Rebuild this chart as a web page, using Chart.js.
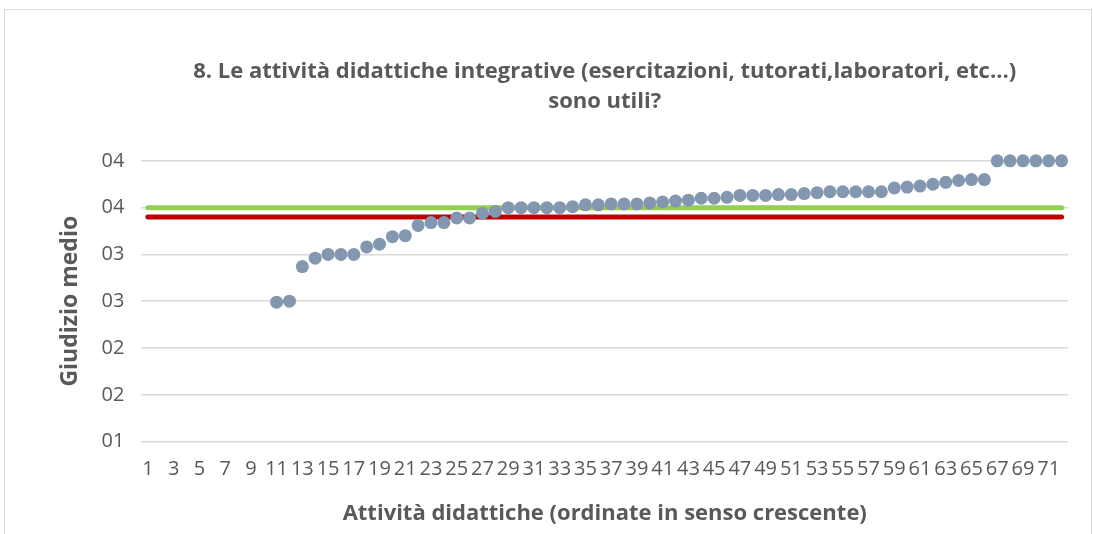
<!DOCTYPE html>
<html>
<head>
<meta charset="utf-8">
<script src="https://cdn.jsdelivr.net/npm/chart.js@4.4.1/dist/chart.umd.min.js"></script>
<style>
  html, body { margin: 0; padding: 0; background: #fff; }
  #frame { position: absolute; left: 4px; top: 9px; width: 1086px; height: 530px; border: 1px solid #d9d9d9; border-bottom: none; }
  #wrap { position: absolute; left: 0; top: 0; width: 1093px; height: 534px; }
</style>
</head>
<body>
<div id="frame"></div>
<div id="wrap"><canvas id="mycanvas"></canvas></div>
<script>
var labels = [1,2,3,4,5,6,7,8,9,10,11,12,13,14,15,16,17,18,19,20,21,22,23,24,25,26,27,28,29,30,31,32,33,34,35,36,
  37,38,39,40,41,42,43,44,45,46,47,48,49,50,51,52,53,54,55,56,57,58,59,60,61,62,63,64,65,66,67,68,69,70,71,72];

// giudizio medio per attività (le prime 10 senza valore)
var giudizio = [null,null,null,null,null,null,null,null,null,null,
  2.49,2.50,2.87,2.96,3.00,3.00,3.00,3.08,3.11,3.19,3.20,3.31,3.34,3.34,3.39,3.39,3.44,3.46,
  3.50,3.50,3.50,3.50,3.50,3.51,3.53,3.53,3.54,3.54,3.54,3.55,3.56,3.57,3.58,3.60,3.60,3.61,
  3.63,3.63,3.63,3.64,3.64,3.65,3.66,3.67,3.67,3.67,3.67,3.67,3.71,3.72,3.73,3.75,3.77,3.79,
  3.80,3.80,4.00,4.00,4.00,4.00,4.00,4.00];

var mediaVerde = 3.5;
var mediaRossa = 3.4;

var yMin = 1, yMax = 4, yStep = 0.5;

var green = [], red = [];
for (var i in labels) {
  green.push(mediaVerde);
  red.push(mediaRossa);
}

var grey = '#595959';
var fam = '"Open Sans", sans-serif';

var chartdata = {
  labels: labels,
  datasets: [
    {
      label: 'Giudizio medio',
      data: giudizio,
      showLine: false,
      pointRadius: 6.5,
      pointHoverRadius: 6.5,
      pointBackgroundColor: '#8497b0',
      pointBorderWidth: 0,
      clip: false,
      order: 0
    },
    {
      label: 'verde',
      data: green,
      borderColor: '#92d050',
      borderWidth: 5,
      borderCapStyle: 'round',
      pointRadius: 0,
      order: 1
    },
    {
      label: 'rossa',
      data: red,
      borderColor: '#c00000',
      borderWidth: 5,
      borderCapStyle: 'round',
      pointRadius: 0,
      order: 2
    }
  ]
};

var ctx = document.getElementById('mycanvas');

var chart = new Chart(ctx, {
  type: 'line',
  data: chartdata,
  options: {
    responsive: true,
    maintainAspectRatio: false,
    animation: false,
    layout: { padding: { left: 57, right: 25, top: 57, bottom: 7 } },
    plugins: {
      legend: { display: false },
      tooltip: { enabled: false },
      title: {
        display: true,
        fullSize: false,
        text: ['8. Le attività didattiche integrative (esercitazioni, tutorati,laboratori, etc...)', 'sono utili?'],
        color: grey,
        font: { family: fam, size: 22, weight: 'bold', lineHeight: 1.36 },
        padding: { top: 0, bottom: 44 }
      }
    },
    scales: {
      x: {
        offset: true,
        grid: { display: false },
        border: { display: false },
        ticks: {
          autoSkip: false,
          maxRotation: 0,
          minRotation: 0,
          padding: 8,
          color: grey,
          font: { family: fam, size: 20 },
          callback: function(value, index) {
            return index % 2 === 0 ? this.getLabelForValue(value) : '';
          }
        },
        title: {
          display: true,
          text: 'Attività didattiche (ordinate in senso crescente)',
          color: grey,
          font: { family: fam, size: 22, weight: 'bold' },
          padding: { top: 11, bottom: 0 }
        }
      },
      y: {
        min: yMin,
        max: yMax,
        grid: { color: '#d9d9d9', lineWidth: 1.5, drawTicks: false },
        border: { display: false },
        ticks: {
          stepSize: yStep,
          padding: 17,
          color: grey,
          font: { family: fam, size: 20 },
          callback: function(v) {
            return ('0' + Math.round(v)).slice(-2);
          }
        },
        title: {
          display: true,
          text: 'Giudizio medio',
          color: grey,
          font: { family: fam, size: 23, weight: 'bold' },
          padding: { top: 0, bottom: 0 }
        }
      }
    }
  }
});
</script>
</body>
</html>
